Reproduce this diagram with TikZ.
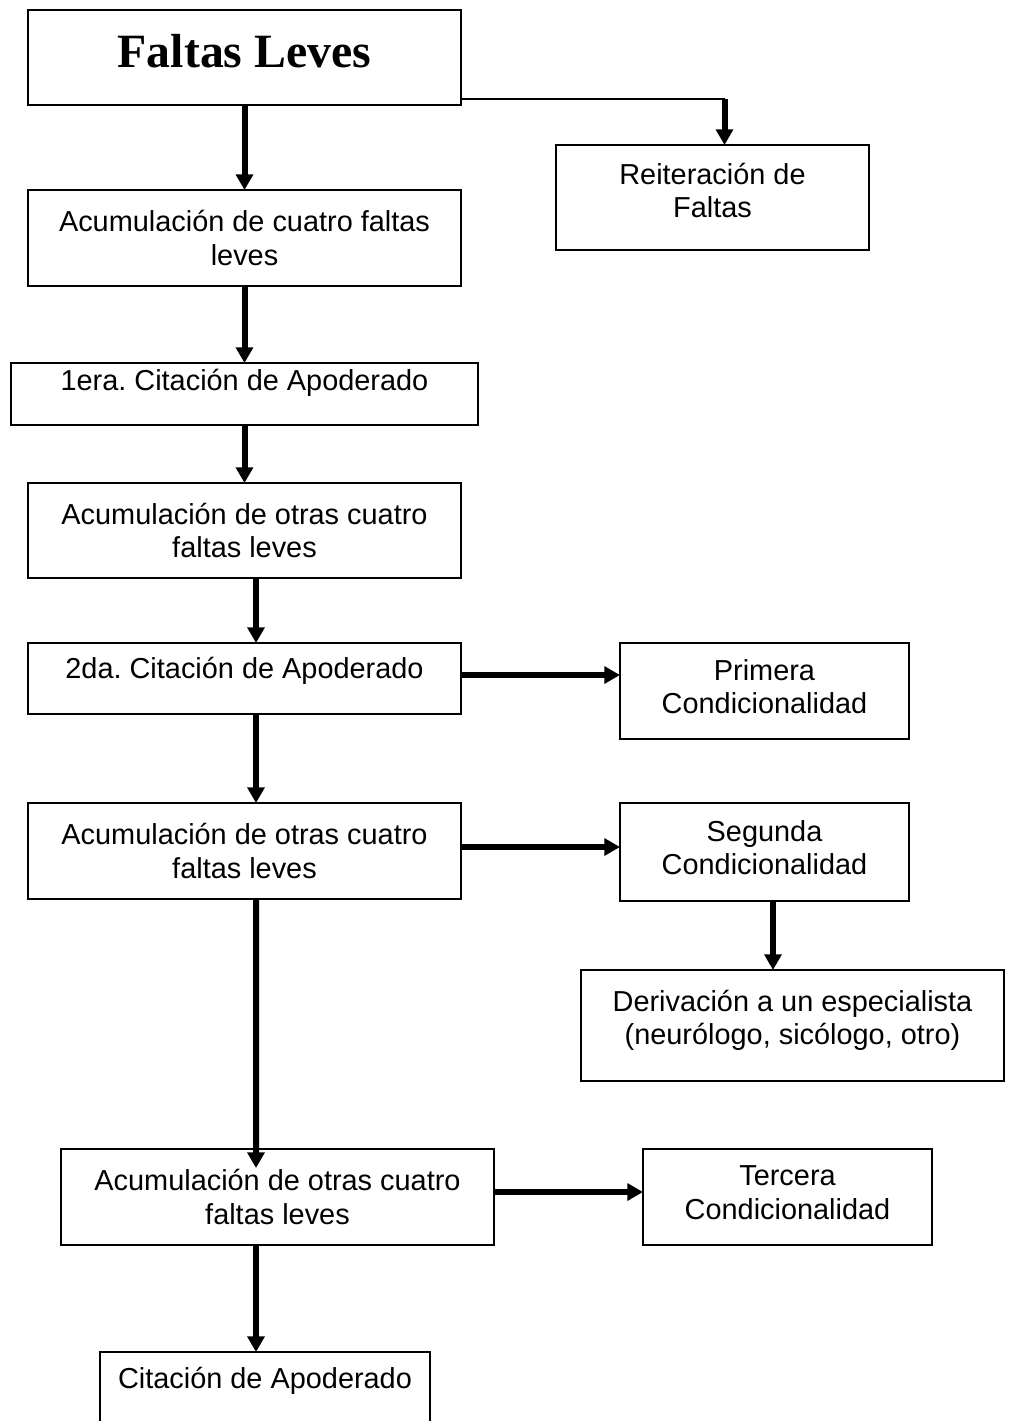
\documentclass[tikz,border=0pt]{standalone}
\usepackage{fontspec}
\setmainfont{Liberation Sans}
\newfontfamily\titulofont{Liberation Serif}
\usepackage{tikz}
\usetikzlibrary{positioning}
\usetikzlibrary{shapes,arrows.meta,positioning}
\frenchspacing
\newcommand{\px}{0.45pt}
\tikzstyle{block} = [rectangle, draw, line width=1.1pt, text centered, align=center,
inner sep=2pt, outer sep=0pt, font=\fontsize{13}{15}\selectfont]
\tikzstyle{line} = [draw, line width=2.7pt, -{Triangle[width=7.5pt,length=7pt]}]
\tikzstyle{thinline} = [draw, line width=1pt]

\begin{document}
\begin{tikzpicture}
\useasboundingbox (0,0) rectangle (1010*\px,-1421*\px);
\clip (0,0) rectangle (1010*\px,-1421*\px);
    % nodes
\node [block, minimum width=433*\px, minimum height=95*\px, text depth=5.8pt, font=\titulofont\fontsize{21.5}{24}\selectfont\bfseries] (faltas) at (244.5*\px,-57.5*\px) {Faltas Leves};
\node [block, below=85*\px of faltas, minimum width=433*\px, minimum height=96*\px] (acumA) {Acumulación de cuatro faltas\\leves};
\node [block, below=77*\px of acumA, minimum width=467*\px, minimum height=62*\px, text depth=12.6pt] (citaA) {1era. Citación de Apoderado};
\node [block, below=58*\px of citaA, minimum width=433*\px, minimum height=95*\px] (acumB) {Acumulación de otras cuatro\\faltas leves};
\node [block, below=65*\px of acumB, minimum width=433*\px, minimum height=71*\px, text depth=9.3pt] (citaB) {2da. Citación de Apoderado};
\node [block, below=89*\px of citaB, minimum width=433*\px, minimum height=96*\px] (acumC) {Acumulación de otras cuatro\\faltas leves};
\node [block, below=250*\px of acumC, xshift=33*\px, minimum width=433*\px, minimum height=96*\px] (acumD) {Acumulación de otras cuatro\\faltas leves};
\node [block, below=107*\px of acumD, xshift=-12.5*\px, minimum width=330*\px, minimum height=96*\px, text depth=19.7pt] (citaC) {Citación de Apoderado};
\node [block, below right=40*\px and 95*\px of faltas, minimum width=313*\px, minimum height=105*\px, text depth=6.3pt] (reit) {Reiteración de\\Faltas};
\node [block, below right=-71*\px and 159*\px of citaB, minimum width=289*\px, minimum height=96*\px, text depth=4pt] (primera) {Primera\\Condicionalidad};
\node [block, below right=-96*\px and 159*\px of acumC, minimum width=289*\px, minimum height=98*\px, text depth=4pt] (segunda) {Segunda\\Condicionalidad};
\node [block, below=69*\px of segunda, xshift=28*\px, minimum width=423*\px, minimum height=111*\px, text depth=7.5pt] (deriv) {Derivación a un especialista\\(neurólogo, sicólogo, otro)};
\node [block, below right=-96*\px and 149*\px of acumD, minimum width=289*\px, minimum height=96*\px, text depth=4pt] (tercera) {Tercera\\Condicionalidad};
\coordinate (codo) at ([xshift=12*\px,yshift=6*\px]faltas.south east -| reit.north);

%edges
\path [line] (faltas) -- (acumA);
\draw [thinline] ([yshift=6*\px]faltas.south east) -- (codo);
\path [line] (codo) -- ([xshift=12*\px]reit.north);
\path [line] (acumA.south) -- (acumA.south |- citaA.north);
\path [line] (citaA.south) -- (citaA.south |- acumB.north);
\path [line] ([xshift=11.5*\px]acumB.south) -- ([xshift=11.5*\px]acumB.south |- citaB.north);
\path [line] ([yshift=3.5*\px]citaB.east) -- ([yshift=3.5*\px]citaB.east -| primera.west);
\path [line] ([xshift=11.5*\px]citaB.south) -- ([xshift=11.5*\px]citaB.south |- acumC.north);
\path [line] ([yshift=4*\px]acumC.east) -- ([yshift=4*\px]acumC.east -| segunda.west);
\path [line] ([xshift=8.5*\px]segunda.south) -- ([xshift=8.5*\px]segunda.south |- deriv.north);
\path [line] ([xshift=11.5*\px]acumC.south) -- ([xshift=-21.5*\px,yshift=-19*\px]acumD.north);
\path [line] ([yshift=5*\px]acumD.east) -- ([yshift=5*\px]acumD.east -| tercera.west);
\path [line] ([xshift=-21.5*\px]acumD.south) -- ([xshift=-21.5*\px]acumD.south |- citaC.north);

\end{tikzpicture}
\end{document}
